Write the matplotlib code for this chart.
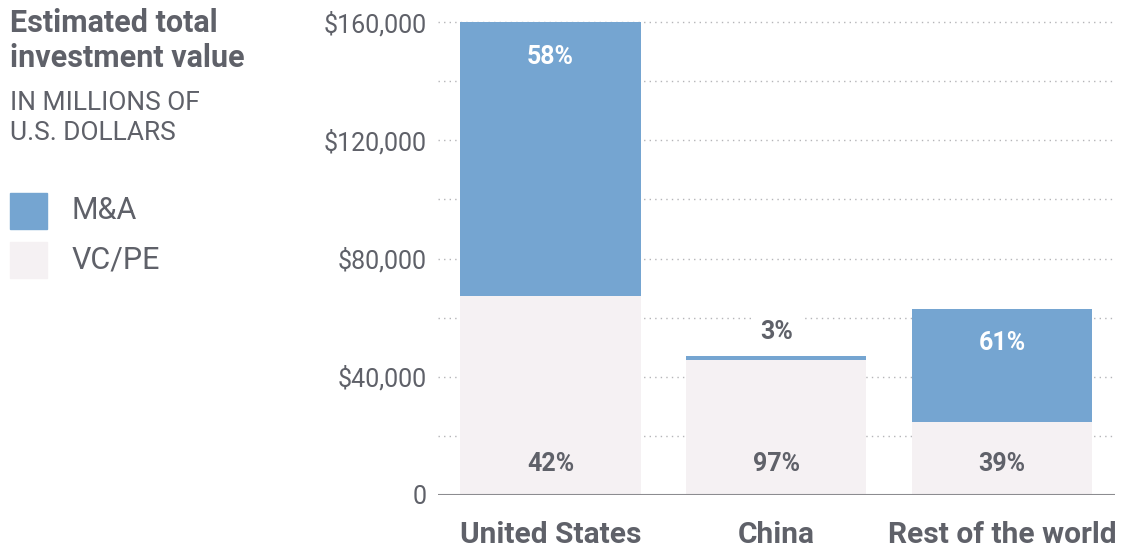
import numpy as np
import matplotlib.pyplot as plt
from matplotlib.patches import Rectangle

plt.rcParams['font.family'] = ['Roboto', 'DejaVu Sans']

categories = ['United States', 'China', 'Rest of the world']
totals = [160000, 47000, 63000]
ma_share = [58, 3, 61]
vcpe_share = [42, 97, 39]
y_ticks = [0, 40000, 80000, 120000, 160000]
y_tick_labels = ['0', '$40,000', '$80,000', '$120,000', '$160,000']

totals = np.array(totals)
vcpe = totals * np.array(vcpe_share) / 100
ma = totals - vcpe

blue = '#75a5d1'
pale = '#f5f1f3'
grey = '#5f6169'

fig = plt.figure(figsize=(11.37, 5.5), dpi=100)
ax = fig.add_axes([0.385, 0.1, 0.5954, 0.86])

x = np.arange(len(categories))
ax.bar(x, vcpe, width=0.8, color=pale, zorder=2)
ax.bar(x, ma, width=0.8, bottom=vcpe, color=blue, zorder=2)

ax.set_xlim(-0.5, 2.5)
ax.set_ylim(0, 160000)

# dotted grid every 20k
for g in range(20000, 160001, 20000):
    ax.axhline(g, color='#b5b5b8', lw=1, ls=(0, (1, 3)), zorder=1, clip_on=False)
ax.axhline(0, color='#8c8c90', lw=1.5, zorder=3)

for s in ax.spines.values():
    s.set_visible(False)
ax.set_yticks(y_ticks)
ax.set_yticklabels(y_tick_labels, fontsize=18, color=grey)
ax.set_xticks(x)
ax.set_xticklabels(categories, fontsize=21.5, fontweight='bold', color=grey)
ax.tick_params(axis='y', length=0, pad=8)
ax.tick_params(axis='x', length=0, pad=19)

# percentage labels
for i in range(len(categories)):
    ax.annotate(f'{vcpe_share[i]}%', (x[i], 0), xytext=(0, 22), textcoords='offset points',
                ha='center', va='center', fontsize=18, fontweight='bold', color=grey, zorder=4)
    if ma_share[i] >= 10:
        ax.annotate(f'{ma_share[i]}%', (x[i], totals[i]), xytext=(0, -25), textcoords='offset points',
                    ha='center', va='center', fontsize=18, fontweight='bold', color='white', zorder=4)
    else:
        ax.annotate(f'{ma_share[i]}%', (x[i], totals[i]), xytext=(0, 17), textcoords='offset points',
                    ha='center', va='center', fontsize=18, fontweight='bold', color=grey, zorder=4,
                    bbox=dict(facecolor='white', edgecolor='none', pad=6))

# title + legend on the left
fig.text(10 / 1137, 1 - 8 / 550, 'Estimated total\ninvestment value', fontsize=22, fontweight='bold',
         color=grey, va='top', ha='left', linespacing=1.2)
fig.text(10 / 1137, 1 - 91 / 550, 'IN MILLIONS OF\nU.S. DOLLARS', fontsize=19, color=grey,
         va='top', ha='left', linespacing=1.3)

for yc, col, lab in [(211, blue, 'M&A'), (260, pale, 'VC/PE')]:
    fig.patches.append(Rectangle((10 / 1137, 1 - (yc + 18) / 550), 37 / 1137, 36 / 550,
                                 transform=fig.transFigure, color=col, figure=fig))
    fig.text(72 / 1137, 1 - yc / 550, lab, fontsize=22, color=grey, va='center', ha='left')

fig.savefig('out.png', dpi=100)
